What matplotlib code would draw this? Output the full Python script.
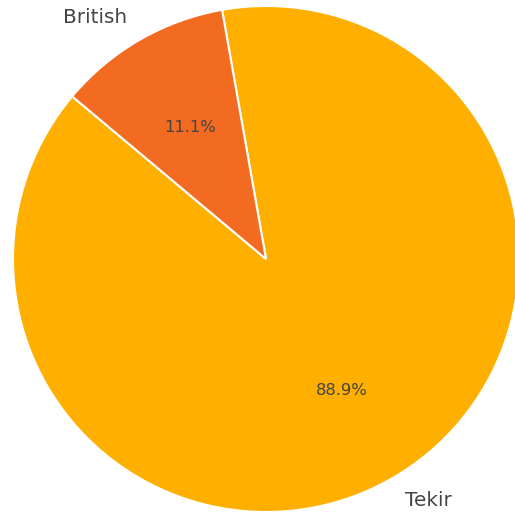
import matplotlib
matplotlib.use("Agg")
import matplotlib.pyplot as plt

# Dati
labels = ["Tekir", "British"]
counts = [8, 1]
colors = ["#FFAF00", "#F26B21"]

fig = plt.figure(figsize=(5.15, 5.15), dpi=100)
ax = fig.add_axes([0, 0, 1, 1])

wedges, texts, autotexts = ax.pie(
    counts, labels=labels, colors=colors, autopct="%1.1f%%",
    startangle=140, wedgeprops={"edgecolor": "white", "linewidth": 1.5},
    textprops={"color": "#444444"},
)
for t in texts:
    t.set_fontsize(14.4)
for t in autotexts:
    t.set_fontsize(11.8)

r = 253.0
ax.set_xlim(-266 / r, 249 / r)
ax.set_ylim(-256 / r, 259 / r)
ax.set_aspect("auto")
ax.axis("off")

fig.savefig("out.png", dpi=100)
